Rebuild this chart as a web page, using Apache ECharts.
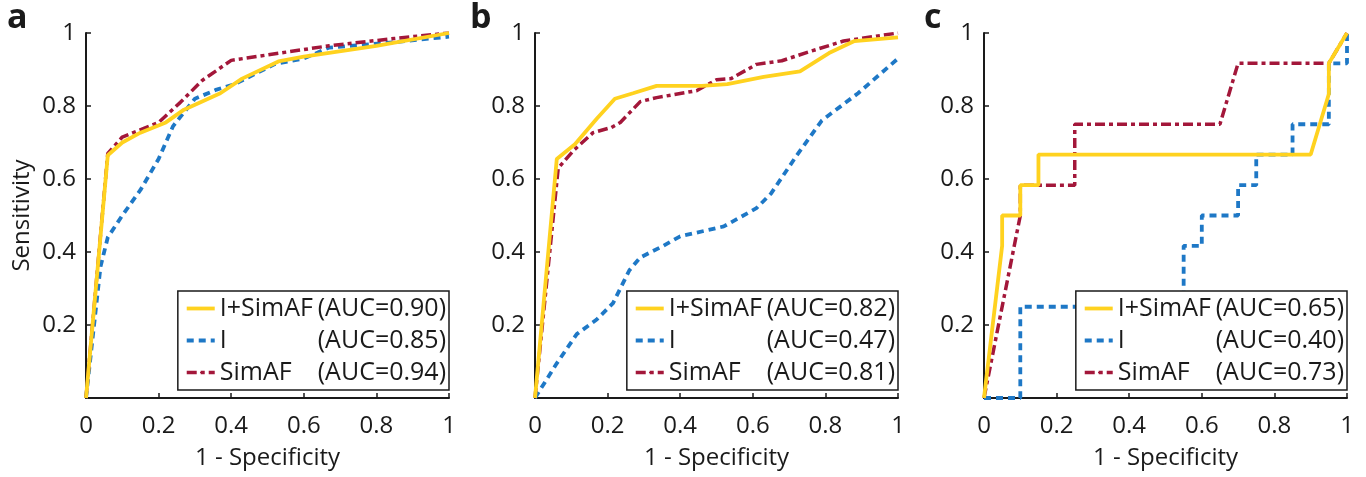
<!DOCTYPE html>
<html>
<head>
<meta charset="utf-8">
<script src="https://cdn.jsdelivr.net/npm/echarts@6/dist/echarts.min.js"></script>
<style>html,body{margin:0;padding:0;background:#fff}#c{width:1366px;height:477px}</style>
</head>
<body>
<div id="c"></div>
<script>
var panelLetters = ['a', 'b', 'c'];
var seriesNames = ['I+SimAF', 'I', 'SimAF'];
var aucA = ['0.90', '0.85', '0.94'];
var aucB = ['0.82', '0.47', '0.81'];
var aucC = ['0.65', '0.40', '0.73'];
var xTicks = [0, 0.2, 0.4, 0.6, 0.8, 1];
var yTicks = [0.2, 0.4, 0.6, 0.8, 1];

// Panel a
var aCombined = [[0,0],[0.06,0.665],[0.1,0.7],[0.15,0.727],[0.22,0.755],[0.27,0.79],[0.37,0.835],[0.43,0.875],[0.53,0.922],[0.6,0.935],[0.8,0.965],[1,1]];
var aImage = [[0,0],[0.01,0.09],[0.04,0.36],[0.06,0.44],[0.1,0.5],[0.15,0.57],[0.2,0.655],[0.24,0.745],[0.3,0.82],[0.36,0.845],[0.41,0.86],[0.52,0.915],[0.6,0.93],[0.67,0.96],[0.85,0.975],[1,0.99]];
var aSimAF = [[0,0],[0.06,0.67],[0.1,0.715],[0.2,0.755],[0.26,0.81],[0.32,0.87],[0.4,0.925],[0.5,0.94],[0.67,0.965],[0.85,0.985],[1,1]];

// Panel b
var bCombined = [[0,0],[0.06,0.655],[0.11,0.695],[0.17,0.765],[0.22,0.82],[0.27,0.835],[0.335,0.855],[0.46,0.855],[0.53,0.86],[0.63,0.88],[0.73,0.895],[0.81,0.945],[0.88,0.978],[1,0.988]];
var bImage = [[0,0],[0.06,0.095],[0.115,0.175],[0.17,0.215],[0.215,0.26],[0.26,0.35],[0.29,0.385],[0.35,0.415],[0.4,0.443],[0.52,0.47],[0.61,0.52],[0.65,0.56],[0.72,0.663],[0.79,0.76],[0.89,0.835],[1,0.93]];
var bSimAF = [[0,0],[0.064,0.63],[0.106,0.678],[0.16,0.727],[0.21,0.741],[0.235,0.755],[0.29,0.812],[0.335,0.823],[0.445,0.842],[0.5,0.872],[0.54,0.875],[0.61,0.914],[0.68,0.924],[0.75,0.947],[0.85,0.978],[1,1]];

// Panel c
var cCombined = [[0,0],[0.05,0.417],[0.05,0.5],[0.1,0.5],[0.1,0.583],[0.15,0.583],[0.15,0.667],[0.9,0.667],[0.95,0.833],[0.95,0.917],[1,1]];
var cImage = [[0,0],[0.1,0],[0.1,0.25],[0.55,0.25],[0.55,0.417],[0.6,0.417],[0.6,0.5],[0.7,0.5],[0.7,0.583],[0.75,0.583],[0.75,0.667],[0.85,0.667],[0.85,0.75],[0.95,0.75],[0.95,0.917],[1,0.917],[1,1]];
var cSimAF = [[0,0],[0.1,0.5],[0.1,0.583],[0.25,0.583],[0.25,0.75],[0.65,0.75],[0.7,0.917],[0.95,0.917],[1,1]];

var panelData = [[aCombined, aImage, aSimAF],[bCombined, bImage, bSimAF],[cCombined, cImage, cSimAF]];
var panelAuc = [aucA, aucB, aucC];

var FONT = 'Open Sans';
var INK = '#1a1a1a';
var colors = ['#FFD21F', '#1E78C6', '#A3173A'];
var lineTypes = ['solid', [7, 5], [10, 4, 4, 4]];
var lineWidths = [3.8, 3.8, 3.5];
var gridLeft = [86, 535, 984];
var gridW = 363;
var legendRight = [917, 468, 19];
var titleLeft = [7, 470, 924];

var grids = [], xAxes = [], yAxes = [], series = [], legends = [], titles = [];
for (var p = 0; p < 3; p++) {
  grids.push({left: gridLeft[p], width: gridW, top: 33, height: 365});
  titles.push({text: panelLetters[p], left: titleLeft[p], top: 1, padding: 0,
    textStyle: {fontFamily: FONT, fontWeight: 'bold', fontSize: 34, color: INK}});
  xAxes.push({
    type: 'value', gridIndex: p, min: 0, max: 1, interval: 0.2,
    name: '1 - Specificity', nameLocation: 'middle', nameGap: 48,
    nameTextStyle: {fontFamily: FONT, fontSize: 24, color: INK},
    axisLine: {show: true, lineStyle: {color: INK, width: 2}},
    axisTick: {show: true, inside: true, length: 5, lineStyle: {color: INK, width: 1.5}},
    axisLabel: {fontFamily: FONT, fontSize: 24, color: INK, margin: 16,
      formatter: function (v) { var r = Math.round(v * 10) / 10; return xTicks.indexOf(r) >= 0 ? String(r) : ''; }},
    splitLine: {show: false}
  });
  yAxes.push({
    type: 'value', gridIndex: p, min: 0, max: 1, interval: 0.2,
    name: p === 0 ? 'Sensitivity' : '', nameLocation: 'middle', nameGap: 52,
    nameTextStyle: {fontFamily: FONT, fontSize: 24, color: INK},
    axisLine: {show: true, lineStyle: {color: INK, width: 2}},
    axisTick: {show: true, inside: true, length: 5, lineStyle: {color: INK, width: 1.5}},
    axisLabel: {fontFamily: FONT, fontSize: 24, color: INK, margin: 10,
      formatter: function (v) { var r = Math.round(v * 10) / 10; return yTicks.indexOf(r) >= 0 ? String(r) : ''; }},
    splitLine: {show: false}
  });
  var names = [];
  var order = [1, 2, 0];
  for (var k = 0; k < 3; k++) {
    var s = order[k];
    var nm = seriesNames[s] + ' (AUC=' + panelAuc[p][s] + ')';
    series.push({
      type: 'line', name: nm, xAxisIndex: p, yAxisIndex: p,
      data: panelData[p][s], symbol: 'none', animation: false,
      z: 2 + k,
      lineStyle: {color: colors[s], width: lineWidths[s], type: lineTypes[s]},
      itemStyle: {color: colors[s]}
    });
  }
  for (var s2 = 0; s2 < 3; s2++) names.push(seriesNames[s2] + ' (AUC=' + panelAuc[p][s2] + ')');
  legends.push({
    data: names, orient: 'vertical', right: legendRight[p], top: 291,
    itemWidth: 28, itemHeight: 2, itemGap: 1,
    padding: [2, 3, 2, 7],
    borderColor: INK, borderWidth: 1.5, backgroundColor: '#fff',
    selectedMode: false,
    lineStyle: {width: 'inherit', type: 'inherit', color: 'inherit'},
    textStyle: {fontFamily: FONT, fontSize: 25, color: INK, lineHeight: 31,
      rich: {n: {fontFamily: FONT, fontSize: 25, color: INK, width: 98}, a: {fontFamily: FONT, fontSize: 25, color: INK}}},
    formatter: function (name) {
      var i = name.indexOf(' (');
      return '{n|' + name.slice(0, i) + '}{a|' + name.slice(i + 1) + '}';
    }
  });
}

var chart = echarts.init(document.getElementById('c'), null, {renderer: 'canvas'});
chart.setOption({
  backgroundColor: '#fff',
  animation: false,
  title: titles,
  grid: grids,
  xAxis: xAxes,
  yAxis: yAxes,
  legend: legends,
  series: series
});
</script>
</body>
</html>
